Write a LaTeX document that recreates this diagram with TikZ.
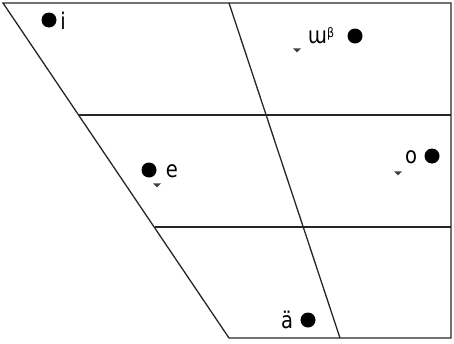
\documentclass[tikz,border=0pt]{standalone}
\usepackage{fontspec}
\setmainfont{DejaVu Sans}
\usetikzlibrary{shapes.geometric}
\begin{document}
\begin{tikzpicture}[x=1pt,y=-1pt,
  edge/.style={line width=1.3pt,black!85},
  vdot/.style={circle,fill=black,inner sep=0pt,minimum size=15pt},
  lbl/.style={inner sep=0pt,font=\fontsize{23}{23}\selectfont,xscale=0.85},
  tack/.style={isosceles triangle,shape border rotate=-90,fill=black!75,draw=none,inner sep=0pt,minimum width=6pt,minimum height=4pt,isosceles triangle apex angle=90}]
\useasboundingbox (0,0) rectangle (454,343);
\coordinate (tl) at (3,3);
\coordinate (tm) at (229,3);
\coordinate (tr) at (451,3);
\coordinate (br) at (451,338);
\coordinate (bm) at (340,338);
\coordinate (bl) at (229,338);
\coordinate (l1) at (79,115);
\coordinate (r1) at (451,115);
\coordinate (l2) at (155,227);
\coordinate (r2) at (451,227);
\draw[edge] (tl) -- (tr) -- (br) -- (bl) -- cycle;
\draw[edge] (tm) -- (bm);
\draw[edge] (l1) -- (r1);
\draw[edge] (l2) -- (r2);
\node[vdot] (di) at (49,20) {};
\node[lbl] (ti) at (63,21) {i};
\node[vdot] (du) at (355,36) {};
\node[lbl] (tu) at (321,36) {ɯ\raisebox{6pt}{\fontsize{13}{13}\selectfont β}};
\node[tack] (ku) at (297,50) {};
\node[vdot] (de) at (149,170) {};
\node[lbl] (te) at (172,171) {e};
\node[tack] (ke) at (157,185) {};
\node[vdot] (do) at (432,156) {};
\node[lbl] (to) at (411,157) {o};
\node[tack] (ko) at (398,173) {};
\node[vdot] (da) at (308,320) {};
\node[lbl] (ta) at (287,320) {ä};
\end{tikzpicture}
\end{document}
